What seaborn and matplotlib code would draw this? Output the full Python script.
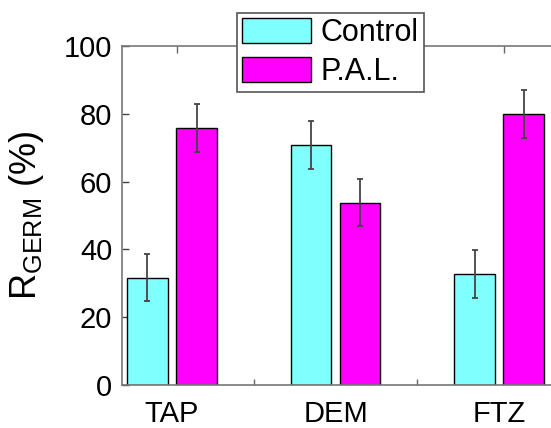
import numpy as np
import pandas as pd
import matplotlib
matplotlib.use("Agg")
import matplotlib.pyplot as plt
import seaborn as sns

# data
categories = ["TAP", "DEM", "FTZ"]
groups = ["Control", "P.A.L."]
control_vals = [31.7, 70.8, 32.8]
pal_vals = [75.9, 53.8, 79.9]
control_err = [7.0, 7.1, 7.0]
pal_err = [7.1, 7.0, 7.0]
y_ticks = [0, 20, 40, 60, 80, 100]

colors = {"Control": "#80FFFF", "P.A.L.": "#FF00FF"}

df = pd.DataFrame({
    "cat": categories * 2,
    "group": [groups[0]] * 3 + [groups[1]] * 3,
    "val": control_vals + pal_vals,
})
errs = {"Control": control_err, "P.A.L.": pal_err}

sns.set_style("white")
plt.rcParams["font.family"] = ["Liberation Sans", "DejaVu Sans"]
plt.rcParams["mathtext.fontset"] = "custom"
plt.rcParams["mathtext.rm"] = "Liberation Sans"
plt.rcParams["text.color"] = "black"
plt.rcParams["xtick.color"] = "black"
plt.rcParams["ytick.color"] = "black"

fig = plt.figure(figsize=(5.51, 4.28), dpi=100)
ax = fig.add_axes([0.2214, 0.1005, 0.803, 0.792])

sns.barplot(data=df, x="cat", y="val", hue="group", order=categories,
            hue_order=groups, palette=colors, width=0.6, gap=1 / 6,
            errorbar=None, edgecolor="black", linewidth=1.0, saturation=1,
            ax=ax)

# error bars at the centre of each bar
for cont, g in zip(ax.containers, groups):
    xs = [p.get_x() + p.get_width() / 2 for p in cont.patches]
    hs = [p.get_height() for p in cont.patches]
    ax.errorbar(xs, hs, yerr=errs[g], fmt="none", ecolor="#444444",
                elinewidth=1.3, capsize=2.5, capthick=1.3, zorder=5)

ax.set_xlim(-0.306, 2.4)
ax.set_ylim(0, 100)
ax.set_yticks(y_ticks)
ax.set_xticks(range(3), categories)
ax.set_xticks([0.5, 1.5], minor=True)
ax.tick_params(axis="x", which="major", length=0, labelsize=21, pad=11,
               labelcolor="black")
ax.tick_params(axis="x", which="minor", bottom=True, direction="in",
               length=4, width=1, color="#666666")
ax.tick_params(axis="y", direction="in", length=5, width=1, color="#444444",
               labelsize=21, left=True, pad=7, labelcolor="black")

top = ax.secondary_xaxis("top")
top.set_xticks([0.03, 1.03, 2.03], labels=[])
top.tick_params(direction="in", length=5, width=1, color="#666666")
top.spines["top"].set_visible(False)

for s in ["left", "top", "bottom"]:
    ax.spines[s].set_color("#777777")
    ax.spines[s].set_linewidth(1.2)
ax.spines["right"].set_visible(False)

ax.set_xlabel("")
ax.set_ylabel(r"$\mathrm{R}_{\mathrm{GERM}}$ (%)", fontsize=26, color="black")
ax.yaxis.set_label_coords(-0.172, 0.50)

leg = ax.legend(loc="upper left", bbox_to_anchor=(0.430, 0.970),
                bbox_transform=fig.transFigure, fontsize=22,
                handlelength=2.26, handleheight=0.9, handletextpad=0.32,
                borderpad=0.16, labelspacing=0.3, borderaxespad=0,
                fancybox=False, framealpha=1, edgecolor="#555555")
leg.get_frame().set_linewidth(1.2)
leg.set_zorder(10)

fig.savefig("out.png", dpi=100)
